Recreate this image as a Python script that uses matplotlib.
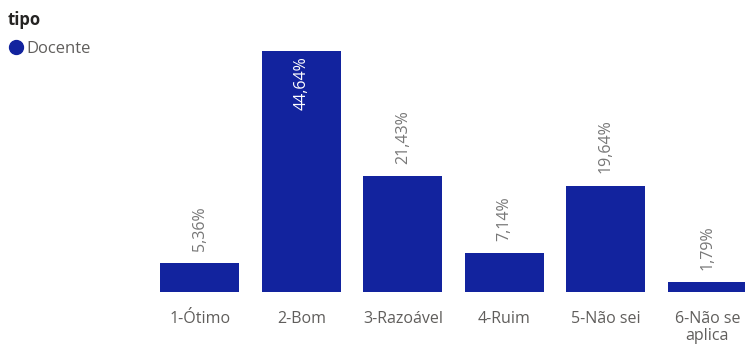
import matplotlib
matplotlib.use("Agg")
import matplotlib.pyplot as plt
from matplotlib.lines import Line2D

plt.rcParams['font.family'] = ['Open Sans', 'DejaVu Sans']

categories = ["1-Ótimo", "2-Bom", "3-Razoável", "4-Ruim", "5-Não sei", "6-Não se\naplica"]
values = [5.36, 44.64, 21.43, 7.14, 19.64, 1.79]
series_name = "Docente"
legend_title = "tipo"

bar_color = "#12239E"
label_color = "#605E5C"

fig = plt.figure(figsize=(7.45, 3.45), dpi=100)
ax = fig.add_axes([150/745, 53/345, 595/745, 252/345])

x = list(range(len(categories)))
bars = ax.bar(x, values, width=0.78, color=bar_color)

ax.set_xlim(-0.49, 5.37)
ax.set_ylim(0, 46.67)
ax.set_xticks(x)
ax.set_xticklabels(categories, fontsize=11.5, color=label_color, linespacing=1.05)
ax.tick_params(axis='x', length=0, pad=14)
ax.set_yticks([])
for s in ax.spines.values():
    s.set_visible(False)

for xi, v in zip(x, values):
    txt = f"{v:.2f}%".replace(".", ",")
    if v > 40:
        ax.annotate(txt, (xi, v), xytext=(0, -4), textcoords="offset points",
                    rotation=90, ha='center', va='top', color='white', fontsize=11.5)
    else:
        ax.annotate(txt, (xi, v), xytext=(0, 9), textcoords="offset points",
                    rotation=90, ha='center', va='bottom', color='#777777', fontsize=11.5)

fig.text(8/745, 1 - 20/345, legend_title, fontsize=12, fontweight='bold',
         color="#252423", ha='left', va='center')
handle = Line2D([], [], marker='o', linestyle='none', markersize=10,
                markerfacecolor=bar_color, markeredgecolor=bar_color)
leg = fig.legend([handle], [series_name], loc='center left',
                 bbox_to_anchor=(4/745, 1 - 49/345), frameon=False, fontsize=12,
                 handletextpad=0.15, handlelength=1.0, borderaxespad=0.0,
                 borderpad=0.2)
for t in leg.get_texts():
    t.set_color(label_color)

fig.savefig("out.png", dpi=100)
